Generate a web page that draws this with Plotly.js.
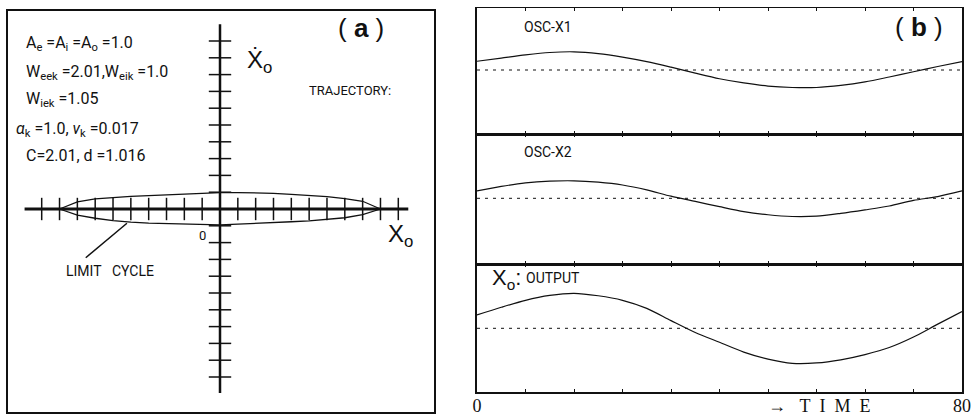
<!DOCTYPE html>
<html>
<head>
<meta charset="utf-8">
<script src="https://cdn.plot.ly/plotly-3.0.1.min.js"></script>
<style>html,body{margin:0;padding:0;background:#fff;}#chart{width:980px;height:419px;}</style>
</head>
<body>
<div id="chart"></div>
<script>
// ---------- DATA ----------
// Panel (a): phase-plane trajectory (limit cycle) (tick units)
const cycleX = [-9,-8,-7,-6,-5,-4,-3,-2,-1,0,1,2,3,4,5,6,7,8,9,
                 8,7,6,5,4,3,2,1,0,-1,-2,-3,-4,-5,-6,-7,-8,-9];
const cycleY = [0,0.42,0.60,0.69,0.75,0.80,0.85,0.90,0.95,0.98,0.98,0.97,0.93,0.87,0.82,0.74,0.62,0.46,0,
                -0.34,-0.52,-0.62,-0.71,-0.76,-0.82,-0.86,-0.90,-0.94,-0.92,-0.89,-0.88,-0.84,-0.78,-0.69,-0.55,-0.36,0];
const phaseTicks = [-10,-9,-8,-7,-6,-5,-4,-3,-2,-1,1,2,3,4,5,6,7,8,9,10];

// Panel (b): time courses
const time   = [0,4,8,12,16,20,24,28,32,36,40,44,48,52,56,60,64,68,72,76,80];
const oscX1  = [0.25,0.34,0.43,0.50,0.52,0.47,0.37,0.24,0.08,-0.09,-0.25,-0.37,-0.46,-0.50,-0.50,-0.44,-0.34,-0.20,-0.05,0.10,0.24];
const oscX2  = [0.21,0.34,0.44,0.49,0.50,0.46,0.38,0.24,0.06,-0.09,-0.24,-0.38,-0.47,-0.52,-0.51,-0.43,-0.33,-0.22,-0.06,0.05,0.21];
const output = [0.38,0.60,0.80,0.94,1.00,0.93,0.80,0.57,0.22,-0.12,-0.40,-0.68,-0.88,-1.00,-0.99,-0.90,-0.75,-0.55,-0.25,0.12,0.48];
const timeTicks = [0,8,16,24,32,40,48,56,64,72,80];
const timeTickText = ['0','','','','','','','','','','80'];
const panelLabels = ['OSC-X1','OSC-X2','OUTPUT'];

// ---------- LAYOUT HELPERS ----------
const W = 980, H = 419;
const px = v => v / W;
const py = v => 1 - v / H;
const NARROW = 'Roboto, Liberation Sans, sans-serif';
const SERIF = 'Liberation Serif, DejaVu Serif, serif';
const SANS = 'Liberation Sans, Arial, sans-serif';
const BLACK = '#111';
const NB = '\u00a0';

const traces = [];
// axis lines of panel (a)
traces.push({x:[-10.96,10.56], y:[0,0], xaxis:'x', yaxis:'y', mode:'lines',
  line:{color:BLACK, width:3}, hoverinfo:'skip', showlegend:false});
traces.push({x:[0,0], y:[-10.95,11.0], xaxis:'x', yaxis:'y', mode:'lines',
  line:{color:BLACK, width:2.5}, hoverinfo:'skip', showlegend:false});
// tick marks of panel (a)
traces.push({x:phaseTicks, y:phaseTicks.map(()=>0), xaxis:'x', yaxis:'y', mode:'markers',
  marker:{symbol:'line-ns-open', size:16, color:BLACK, line:{color:BLACK, width:1.5}}, hoverinfo:'skip', showlegend:false});
traces.push({x:phaseTicks.map(()=>0), y:phaseTicks, xaxis:'x', yaxis:'y', mode:'markers',
  marker:{symbol:'line-ew-open', size:16, color:BLACK, line:{color:BLACK, width:1.5}}, hoverinfo:'skip', showlegend:false});
// limit cycle
traces.push({x:cycleX, y:cycleY, xaxis:'x', yaxis:'y', mode:'lines',
  line:{color:BLACK, width:1.3}, showlegend:false, name:'limit cycle'});

// panel (b)
const series = [oscX1, oscX2, output];
series.forEach((s, i) => {
  const xa = 'x' + (i + 2), ya = 'y' + (i + 2);
  traces.push({x:[time[0], time[time.length-1]], y:[0,0], xaxis:xa, yaxis:ya, mode:'lines',
    line:{color:BLACK, width:1, dash:'3px,5px'}, hoverinfo:'skip', showlegend:false});
  traces.push({x:time, y:s, xaxis:xa, yaxis:ya, mode:'lines',
    line:{color:BLACK, width:1.2, shape:'spline', smoothing:0.8}, name:panelLabels[i], showlegend:false});
});

const noAxis = {showgrid:false, zeroline:false, showticklabels:false, ticks:'', showline:false};
const xB = (last) => ({
  domain:[px(477), px(962)], range:[0,80], showgrid:false, zeroline:false,
  showline:true, linecolor:BLACK, linewidth:1.5, mirror:'ticks',
  ticks:'inside', ticklen:3, tickwidth:1, tickcolor:BLACK,
  tickmode:'array', tickvals:timeTicks, ticktext:timeTickText,
  showticklabels:last, ticklabelstandoff:-3, tickfont:{family:SERIF, size:18, color:BLACK}
});
const yB = (top, bot, lo, hi) => ({
  domain:[py(bot), py(top)], range:[lo, hi], showgrid:false, zeroline:false,
  showticklabels:false, ticks:'', showline:true, mirror:true, linecolor:BLACK, linewidth:2
});

const annotations = [];
const ann = (text, x, y, size, family, extra) => annotations.push(Object.assign({
  text, x:px(x), y:py(y), xref:'paper', yref:'paper', xanchor:'left', yanchor:'middle',
  showarrow:false, font:{family, size, color:BLACK}}, extra || {}));

ann('A<sub>e</sub> =A<sub>i</sub> =A<sub>o</sub> =1.0', 24, 44, 16, NARROW);
ann('W<sub>eek</sub> =2.01,W<sub>eik</sub> =1.0', 24, 73, 16, NARROW);
ann('W<sub>iek</sub> =1.05', 24, 99, 16, NARROW);
ann('<i>α</i><sub>k</sub> =1.0, <i>ν</i><sub>k</sub> =0.017', 14, 129, 16, NARROW);
ann('C=2.01, d =1.016', 24, 156, 16, NARROW);
ann('Ẋ<sub>o</sub>', 245, 62, 24, SANS);
ann('TRAJECTORY:', 307, 90, 13, NARROW);
ann('(' + NB + '<b>a</b>' + NB + ')', 336, 28, 26, SANS);
ann('X<sub>o</sub>', 386, 235, 24, SANS);
ann('LIMIT' + NB + NB + NB + 'CYCLE', 64, 271, 14, NARROW);
ann('0', 197, 235, 13, NARROW);

ann('OSC-X1', 522, 27, 14, NARROW);
ann('OSC-X2', 522, 152, 14, NARROW);
ann('X<sub>o</sub>:', 490, 279, 22, SANS);
ann('OUTPUT', 524, 278, 14, NARROW);
ann('(' + NB + '<b>b</b>' + NB + ')', 893, 27, 26, SANS);
ann('→' + NB + NB + NB + 'T' + NB + NB + 'I' + NB + NB + 'M' + NB + NB + 'E', 766, 406, 18, SERIF);

const layout = {
  width:W, height:H, margin:{l:0, r:0, t:0, b:0}, paper_bgcolor:'#fff', plot_bgcolor:'rgba(0,0,0,0)',
  showlegend:false,
  xaxis:Object.assign({domain:[px(7), px(435)], range:[(7-220)/17.83, (435-220)/17.83]}, noAxis),
  yaxis:Object.assign({domain:[py(413), py(10)], range:[(209-413)/16.8, (209-10)/16.8]}, noAxis),
  xaxis2:Object.assign(xB(false), {anchor:'y2'}),
  yaxis2:Object.assign(yB(8,134,-(134-70)/35,(70-8)/35), {anchor:'x2'}),
  xaxis3:Object.assign(xB(false), {anchor:'y3'}),
  yaxis3:Object.assign(yB(134,264,-(264-198.3)/35,(198.3-134)/35), {anchor:'x3'}),
  xaxis4:Object.assign(xB(true), {anchor:'y4'}),
  yaxis4:Object.assign(yB(264,392,-(392-328.3)/35,(328.3-264)/35), {anchor:'x4'}),
  shapes:[
    {type:'rect', xref:'paper', yref:'paper', x0:px(7), x1:px(435), y0:py(413), y1:py(10),
     line:{color:BLACK, width:2}},
    {type:'line', xref:'x', yref:'y', x0:-5.22, y0:-0.85, x1:-7.53, y1:-2.9,
     line:{color:BLACK, width:1.5}}
  ],
  annotations
};

Plotly.newPlot('chart', traces, layout, {staticPlot:true, displayModeBar:false});
</script>
</body>
</html>
